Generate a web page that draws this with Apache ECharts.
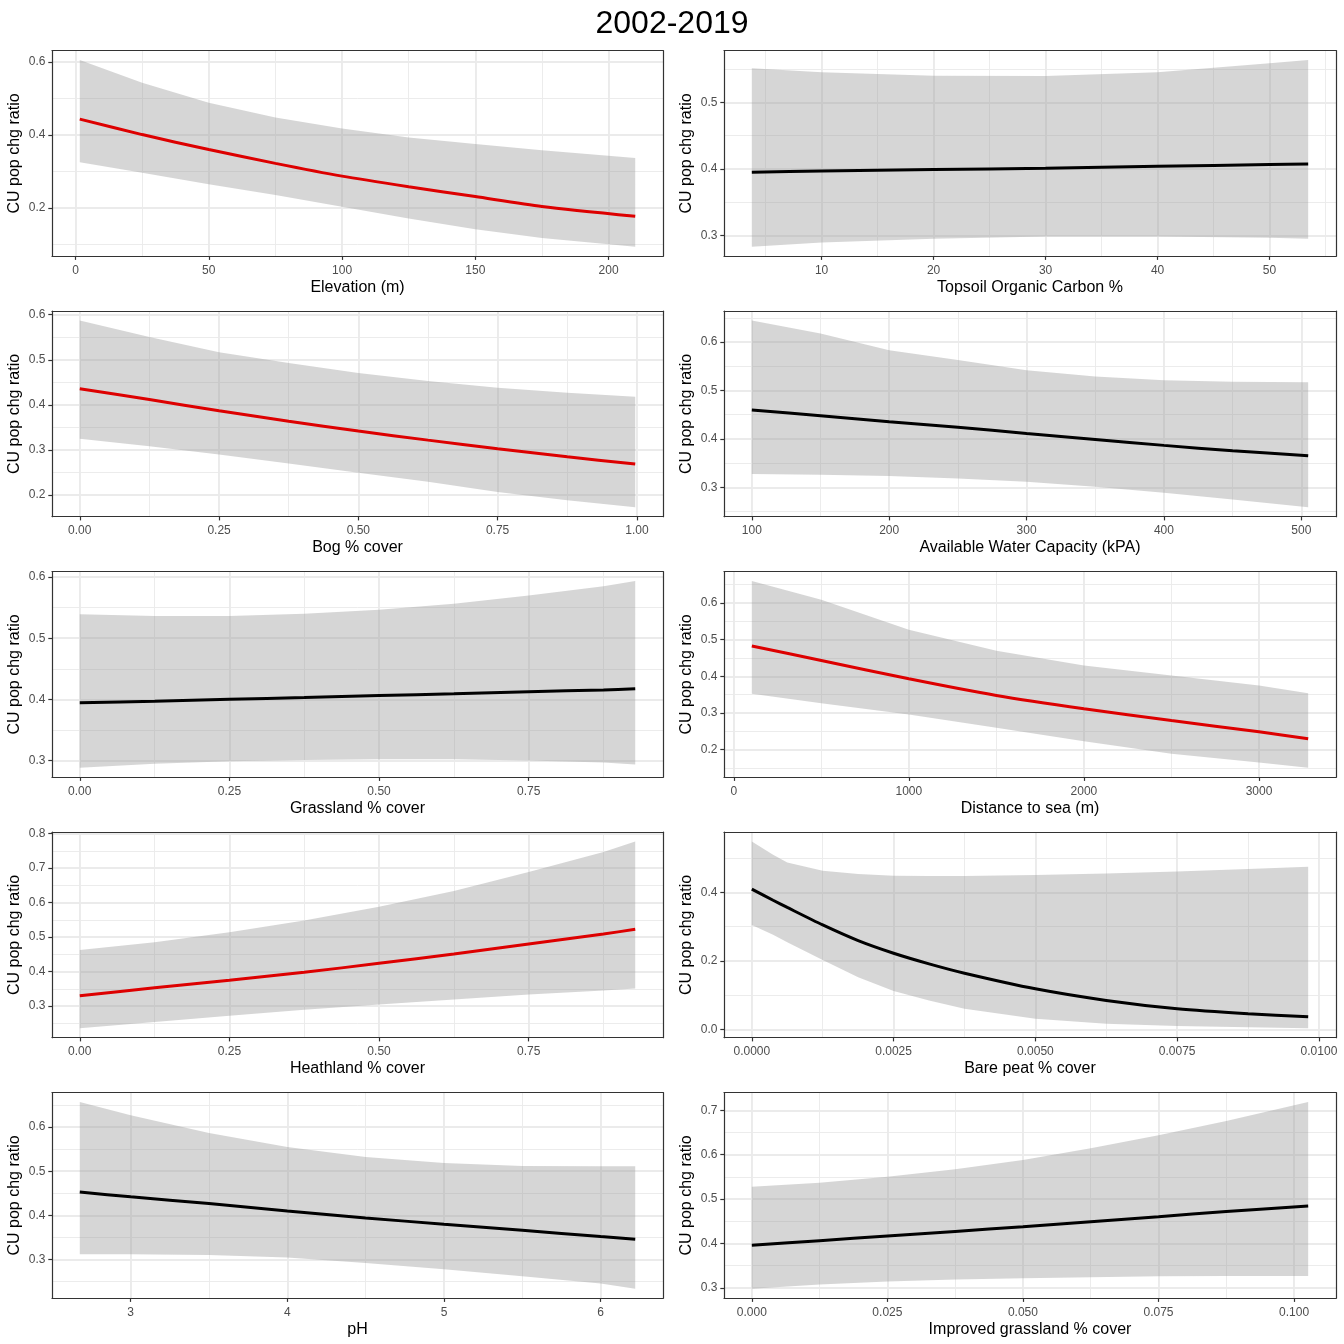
<!DOCTYPE html>
<html>
<head>
<meta charset="utf-8"/>
<title>2002-2019</title>
<style>
  html, body { margin: 0; padding: 0; background: #ffffff; }
  #chart { width: 1344px; height: 1344px; }
</style>
</head>
<body>
<div id="chart"></div>
<script src="https://cdn.jsdelivr.net/npm/echarts@6.0.0/dist/echarts.min.js"></script>
<script>
// ---- data ----
var elevX   = [1.6, 25, 50, 75, 100, 125, 150, 175, 210];
var elevFit = [0.4435, 0.401, 0.360, 0.322, 0.287, 0.258, 0.231, 0.204, 0.177];
var elevHi  = [0.6055, 0.543, 0.488, 0.448, 0.418, 0.393, 0.375, 0.358, 0.337];
var elevLo  = [0.325, 0.296, 0.265, 0.235, 0.203, 0.171, 0.141, 0.117, 0.093];
var elevXTicks = ['0', '50', '100', '150', '200'];
var elevYTicks = ['0.2', '0.4', '0.6'];

var socX   = [3.77, 10, 20, 30, 40, 50, 53.45];
var socFit = [0.395, 0.397, 0.399, 0.401, 0.404, 0.4065, 0.4075];
var socHi  = [0.551, 0.545, 0.540, 0.5395, 0.545, 0.5585, 0.5635];
var socLo  = [0.283, 0.2895, 0.295, 0.2985, 0.2985, 0.2965, 0.295];
var socXTicks = ['10', '20', '30', '40', '50'];
var socYTicks = ['0.3', '0.4', '0.5'];

var bogX   = [0, 0.125, 0.25, 0.375, 0.5, 0.625, 0.75, 0.875, 0.997];
var bogFit = [0.436, 0.412, 0.387, 0.364, 0.342, 0.322, 0.303, 0.285, 0.269];
var bogHi  = [0.587, 0.5505, 0.5166, 0.493, 0.471, 0.453, 0.438, 0.427, 0.418];
var bogLo  = [0.325, 0.3085, 0.290, 0.270, 0.2495, 0.2295, 0.207, 0.189, 0.173];
var bogXTicks = ['0.00', '0.25', '0.50', '0.75', '1.00'];
var bogYTicks = ['0.2', '0.3', '0.4', '0.5', '0.6'];

var awcX   = [100, 150, 200, 250, 300, 350, 400, 450, 505];
var awcFit = [0.4596, 0.448, 0.4355, 0.424, 0.4114, 0.399, 0.3867, 0.3756, 0.3653];
var awcHi  = [0.6447, 0.618, 0.5835, 0.563, 0.542, 0.529, 0.5215, 0.518, 0.5174];
var awcLo  = [0.3275, 0.326, 0.3233, 0.3185, 0.3116, 0.3013, 0.289, 0.275, 0.2586];
var awcXTicks = ['100', '200', '300', '400', '500'];
var awcYTicks = ['0.3', '0.4', '0.5', '0.6'];

var grassX   = [0, 0.125, 0.25, 0.375, 0.5, 0.625, 0.75, 0.875, 0.928];
var grassFit = [0.3946, 0.397, 0.400, 0.403, 0.4065, 0.409, 0.4125, 0.4155, 0.4174];
var grassHi  = [0.5391, 0.5364, 0.5364, 0.540, 0.5467, 0.5565, 0.570, 0.5848, 0.5935];
var grassLo  = [0.288, 0.2946, 0.2989, 0.301, 0.3022, 0.3022, 0.300, 0.2967, 0.2935];
var grassXTicks = ['0.00', '0.25', '0.50', '0.75'];
var grassYTicks = ['0.3', '0.4', '0.5', '0.6'];

var seaX   = [103, 500, 1000, 1500, 2000, 2500, 3000, 3281];
var seaFit = [0.4825, 0.4433, 0.3932, 0.3476, 0.3112, 0.2793, 0.2483, 0.2292];
var seaHi  = [0.660, 0.609, 0.527, 0.470, 0.4296, 0.4023, 0.375, 0.354];
var seaLo  = [0.3522, 0.3267, 0.2957, 0.2592, 0.2228, 0.1882, 0.1645, 0.150];
var seaXTicks = ['0', '1000', '2000', '3000'];
var seaYTicks = ['0.2', '0.3', '0.4', '0.5', '0.6'];

var heathX   = [0, 0.125, 0.25, 0.375, 0.5, 0.625, 0.75, 0.875, 0.928];
var heathFit = [0.330, 0.353, 0.375, 0.398, 0.424, 0.451, 0.480, 0.509, 0.5225];
var heathHi  = [0.4628, 0.485, 0.514, 0.548, 0.588, 0.634, 0.689, 0.747, 0.777];
var heathLo  = [0.2355, 0.2538, 0.2721, 0.2894, 0.3048, 0.3193, 0.3337, 0.3453, 0.351];
var heathXTicks = ['0.00', '0.25', '0.50', '0.75'];
var heathYTicks = ['0.3', '0.4', '0.5', '0.6', '0.7', '0.8'];

var peatX   = [0, 0.000375, 0.000625, 0.00125, 0.001875, 0.0025, 0.003125, 0.00375, 0.005, 0.00625, 0.0075, 0.00875, 0.00981];
var peatFit = [0.4097, 0.377, 0.356, 0.305, 0.2592, 0.2223, 0.1913, 0.164, 0.1184, 0.0845, 0.0602, 0.0456, 0.0369];
var peatHi  = [0.5485, 0.5097, 0.4874, 0.4631, 0.4534, 0.4485, 0.448, 0.4476, 0.4505, 0.4553, 0.4612, 0.468, 0.4748];
var peatLo  = [0.3049, 0.276, 0.2544, 0.2029, 0.1524, 0.1117, 0.0845, 0.0602, 0.0311, 0.0165, 0.0097, 0.0058, 0.0029];
var peatXTicks = ['0.0000', '0.0025', '0.0050', '0.0075', '0.0100'];
var peatYTicks = ['0.0', '0.2', '0.4'];

var phX   = [2.675, 3, 3.5, 4, 4.5, 5, 5.5, 6, 6.221];
var phFit = [0.453, 0.442, 0.4267, 0.410, 0.3943, 0.380, 0.3664, 0.352, 0.346];
var phHi  = [0.6565, 0.6264, 0.5864, 0.5548, 0.5322, 0.5186, 0.5118, 0.5111, 0.5111];
var phLo  = [0.3121, 0.3121, 0.3106, 0.3046, 0.2925, 0.2782, 0.2624, 0.2458, 0.2338];
var phXTicks = ['3', '4', '5', '6'];
var phYTicks = ['0.3', '0.4', '0.5', '0.6'];

var impX   = [0, 0.0125, 0.025, 0.0375, 0.05, 0.0625, 0.075, 0.0875, 0.1026];
var impFit = [0.3959, 0.4064, 0.4169, 0.4273, 0.4378, 0.449, 0.4603, 0.4723, 0.4843];
var impHi  = [0.5277, 0.5367, 0.5502, 0.5674, 0.5884, 0.6146, 0.6438, 0.676, 0.7187];
var impLo  = [0.2978, 0.3075, 0.3142, 0.3187, 0.3217, 0.324, 0.3262, 0.327, 0.327];
var impXTicks = ['0.000', '0.025', '0.050', '0.075', '0.100'];
var impYTicks = ['0.3', '0.4', '0.5', '0.6', '0.7'];

var RED = '#DD0000', BLACK = '#000000';
var FONT = '"Liberation Sans", Arial, Helvetica, sans-serif';
var Y_TITLE = 'CU pop chg ratio';

var panels = [
  {x: elevX,  fit: elevFit,  hi: elevHi,  lo: elevLo,  xt: elevXTicks,  yt: elevYTicks,  name: 'Elevation (m)', color: RED},
  {x: socX,   fit: socFit,   hi: socHi,   lo: socLo,   xt: socXTicks,   yt: socYTicks,   name: 'Topsoil Organic Carbon %', color: BLACK},
  {x: bogX,   fit: bogFit,   hi: bogHi,   lo: bogLo,   xt: bogXTicks,   yt: bogYTicks,   name: 'Bog % cover', color: RED},
  {x: awcX,   fit: awcFit,   hi: awcHi,   lo: awcLo,   xt: awcXTicks,   yt: awcYTicks,   name: 'Available Water Capacity (kPA)', color: BLACK},
  {x: grassX, fit: grassFit, hi: grassHi, lo: grassLo, xt: grassXTicks, yt: grassYTicks, name: 'Grassland % cover', color: BLACK},
  {x: seaX,   fit: seaFit,   hi: seaHi,   lo: seaLo,   xt: seaXTicks,   yt: seaYTicks,   name: 'Distance to sea (m)', color: RED},
  {x: heathX, fit: heathFit, hi: heathHi, lo: heathLo, xt: heathXTicks, yt: heathYTicks, name: 'Heathland % cover', color: RED},
  {x: peatX,  fit: peatFit,  hi: peatHi,  lo: peatLo,  xt: peatXTicks,  yt: peatYTicks,  name: 'Bare peat % cover', color: BLACK},
  {x: phX,    fit: phFit,    hi: phHi,    lo: phLo,    xt: phXTicks,    yt: phYTicks,    name: 'pH', color: BLACK},
  {x: impX,   fit: impFit,   hi: impHi,   lo: impLo,   xt: impXTicks,   yt: impYTicks,   name: 'Improved grassland % cover', color: BLACK}
];

// panel layout (px)
var colLeft = [52, 724], colWidth = [611, 612];
var rowTop = [50.7, 311.2, 571.7, 832.2, 1092.7], rowHeight = 205.5;

// ggplot style 5% expansion
function expand(arrs) {
  var all = [].concat.apply([], arrs);
  var mn = Math.min.apply(null, all), mx = Math.max.apply(null, all);
  var r = mx - mn;
  return [mn - 0.05 * r, mx + 0.05 * r];
}

function minorOf(vals, lim) {
  var step = vals[1] - vals[0], out = [];
  for (var i = -1; i < vals.length; i++) {
    var v = vals[0] + (i + 0.5) * step;
    if (v > lim[0] && v < lim[1]) out.push(v);
  }
  return out;
}

function fmt(labels) {
  return function (v) {
    for (var i = 0; i < labels.length; i++) {
      if (Math.abs(Number(labels[i]) - v) < 1e-9) return labels[i];
    }
    return '';
  };
}

function ribbon(p) {
  return function (params, api) {
    if (params.dataIndex !== 0) return null;
    var pts = [], j;
    for (j = 0; j < p.x.length; j++) pts.push(api.coord([p.x[j], p.hi[j]]));
    for (j = p.x.length - 1; j >= 0; j--) pts.push(api.coord([p.x[j], p.lo[j]]));
    return {
      type: 'polygon',
      shape: {points: pts},
      style: {fill: 'rgba(153,153,153,0.4)'},
      silent: true
    };
  };
}

var grids = [], xAxes = [], yAxes = [], series = [];
var border = {show: true, onZero: false, lineStyle: {color: '#333333', width: 1.2}};
var tickLabel = {fontFamily: FONT, fontSize: 12, color: '#4D4D4D'};
var titleText = {fontFamily: FONT, fontSize: 16, color: '#000000'};
var majorGrid = {show: true, lineStyle: {color: '#EBEBEB', width: 1.9}};
var minorGrid = {show: true, lineStyle: {color: '#EBEBEB', width: 0.95}};

panels.forEach(function (p, i) {
  var col = i % 2, row = Math.floor(i / 2);
  grids.push({
    left: colLeft[col], top: rowTop[row], width: colWidth[col], height: rowHeight,
    containLabel: false, outerBoundsMode: 'none', show: false
  });
  var xl = expand([p.x]);
  var yl = expand([p.lo, p.hi, p.fit]);
  var xv = p.xt.map(Number), yv = p.yt.map(Number);

  xAxes.push({
    type: 'value', gridIndex: i, position: 'bottom', min: xl[0], max: xl[1],
    name: p.name, nameLocation: 'middle', nameGap: 23, nameTextStyle: titleText,
    nameMoveOverlap: false,
    axisLine: border,
    axisTick: {show: true, inside: false, length: 3.7, lineStyle: {color: '#333333', width: 1.2}, customValues: xv},
    axisLabel: Object.assign({show: true, margin: 8, formatter: fmt(p.xt), customValues: xv}, tickLabel),
    splitLine: majorGrid
  });
  xAxes.push({
    type: 'value', gridIndex: i, position: 'top', min: xl[0], max: xl[1],
    axisLine: border,
    axisTick: {show: false, customValues: minorOf(xv, xl)},
    axisLabel: {show: false},
    splitLine: minorGrid
  });
  yAxes.push({
    type: 'value', gridIndex: i, position: 'left', min: yl[0], max: yl[1],
    name: Y_TITLE, nameLocation: 'middle', nameGap: 29, nameRotate: 90, nameTextStyle: titleText,
    nameMoveOverlap: false,
    axisLine: border,
    axisTick: {show: true, inside: false, length: 3.7, lineStyle: {color: '#333333', width: 1.2}, customValues: yv},
    axisLabel: Object.assign({show: true, margin: 6.5, formatter: fmt(p.yt), customValues: yv}, tickLabel),
    splitLine: majorGrid
  });
  yAxes.push({
    type: 'value', gridIndex: i, position: 'right', min: yl[0], max: yl[1],
    axisLine: border,
    axisTick: {show: false, customValues: minorOf(yv, yl)},
    axisLabel: {show: false},
    splitLine: minorGrid
  });

  series.push({
    type: 'custom', coordinateSystem: 'cartesian2d',
    xAxisIndex: 2 * i, yAxisIndex: 2 * i,
    renderItem: ribbon(p),
    encode: {x: 0, y: [1, 2]},
    data: p.x.map(function (v, j) { return [v, p.lo[j], p.hi[j]]; }),
    silent: true, z: 2
  });
  series.push({
    type: 'line', xAxisIndex: 2 * i, yAxisIndex: 2 * i,
    data: p.x.map(function (v, j) { return [v, p.fit[j]]; }),
    smooth: 0.25,
    showSymbol: false, symbol: 'none',
    lineStyle: {color: p.color, width: 3},
    silent: true, z: 3
  });
});

var chart = echarts.init(document.getElementById('chart'), null, {renderer: 'canvas'});
chart.setOption({
  backgroundColor: '#ffffff',
  animation: false,
  title: {
    text: '2002-2019', left: 'center', top: 3,
    textStyle: {fontFamily: FONT, fontSize: 32, fontWeight: 'normal', color: '#000000'}
  },
  grid: grids,
  xAxis: xAxes,
  yAxis: yAxes,
  series: series
});
</script>
</body>
</html>
